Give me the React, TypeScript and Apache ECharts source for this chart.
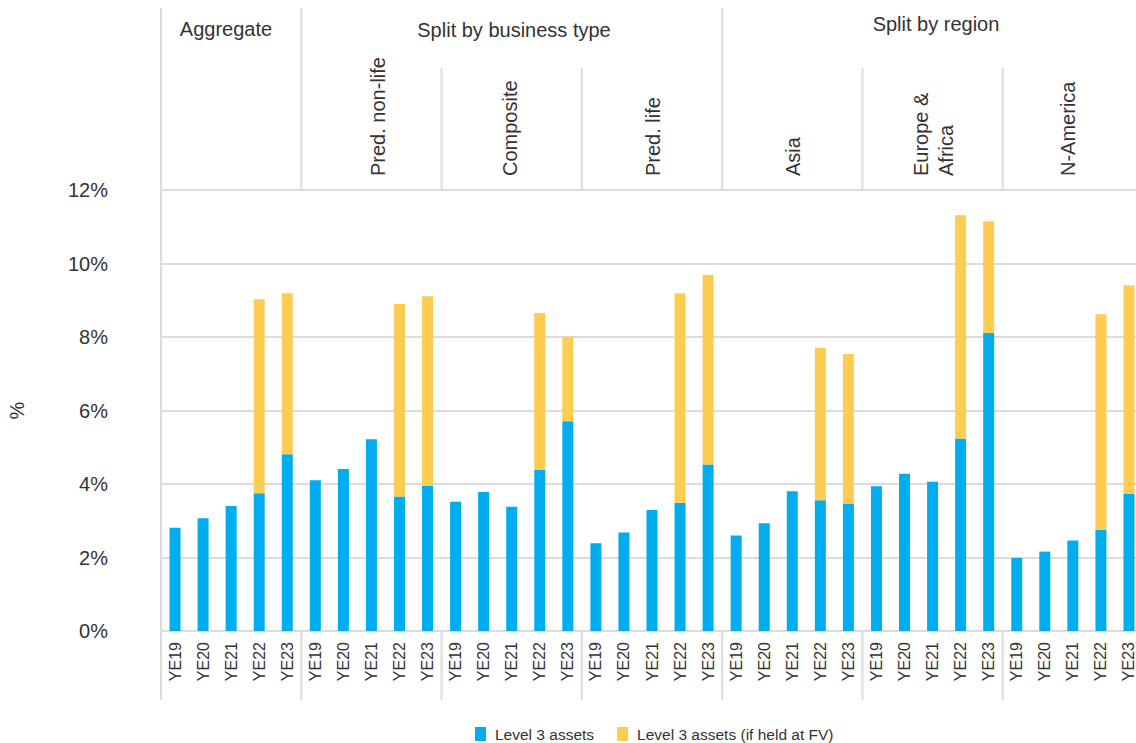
import React, { useEffect, useRef } from "react";
import * as echarts from "echarts";

const years = ["YE19", "YE20", "YE21", "YE22", "YE23"];
const groups = ["Aggregate", "Pred. non-life", "Composite", "Pred. life", "Asia", "Europe & Africa", "N-America"];
const categories: string[] = groups.flatMap(() => years);

// Level 3 assets (%)
const level3 = [
  2.81, 3.07, 3.4, 3.75, 4.81,
  4.1, 4.41, 5.22, 3.66, 3.95,
  3.52, 3.78, 3.38, 4.38, 5.71,
  2.39, 2.68, 3.29, 3.49, 4.53,
  2.6, 2.93, 3.8, 3.56, 3.47,
  3.94, 4.28, 4.06, 5.24, 8.11,
  1.99, 2.16, 2.46, 2.75, 3.73,
];
// Additional Level 3 assets if held at FV (stacked on top)
const heldAtFV = [
  null, null, null, 5.28, 4.38,
  null, null, null, 5.24, 5.16,
  null, null, null, 4.27, 2.3,
  null, null, null, 5.7, 5.16,
  null, null, null, 4.15, 4.07,
  null, null, null, 6.07, 3.04,
  null, null, null, 5.87, 5.67,
];
const yTicks = { min: 0, max: 12, interval: 2 };
const seriesNames = ["Level 3 assets", "Level 3 assets (if held at FV)"];
const topHeaders = [
  { text: "Aggregate", x: 226, y: 29 },
  { text: "Split by business type", x: 514, y: 30 },
  { text: "Split by region", x: 936, y: 24 },
];
const subHeaders = [
  { text: "Pred. non-life", x: 378 },
  { text: "Composite", x: 510 },
  { text: "Pred. life", x: 653 },
  { text: "Asia", x: 793 },
  { text: "Europe &\nAfrica", x: 933 },
  { text: "N-America", x: 1068 },
];

const FONT = "'Liberation Sans', Arial, Helvetica, sans-serif";
const TEXT = "#333333";
const GRIDC = "#dcdcdc";
const BLUE = "#00ADEE";
const YELLOW = "#FECC50";

const GRID_LEFT = 161;
const GRID_TOP = 190;
const GRID_W = 982;
const GRID_H = 441;

export default function App() {
  const ref = useRef<HTMLDivElement>(null);
  useEffect(() => {
    document.body.style.margin = "0";
    if (!ref.current) return;
    const chart = echarts.init(ref.current, undefined, { renderer: "svg" });
    const catW = GRID_W / categories.length;
    const bx = (i: number) => GRID_LEFT + i * 5 * catW;
    const line = (x1: number, y1: number, x2: number, y2: number) => ({
      type: "line",
      silent: true,
      shape: { x1, y1, x2, y2 },
      style: { stroke: GRIDC, lineWidth: 2 },
    });
    const graphics: any[] = [];
    graphics.push(line(GRID_LEFT, 8, GRID_LEFT, 700));
    [1, 4].forEach((i) => graphics.push(line(bx(i), 8, bx(i), GRID_TOP)));
    [2, 3, 5, 6].forEach((i) => graphics.push(line(bx(i), 68, bx(i), GRID_TOP)));
    [1, 2, 3, 4, 5, 6].forEach((i) => graphics.push(line(bx(i), GRID_TOP + GRID_H, bx(i), 700)));
    topHeaders.forEach((h) =>
      graphics.push({
        type: "text",
        silent: true,
        x: h.x,
        y: h.y,
        style: { text: h.text, fontSize: 20, fontFamily: FONT, fill: TEXT, align: "center", verticalAlign: "middle" },
      })
    );
    subHeaders.forEach((h) =>
      graphics.push({
        type: "text",
        silent: true,
        x: h.x,
        y: 176,
        rotation: Math.PI / 2,
        style: {
          text: h.text,
          fontSize: 20,
          lineHeight: 25,
          fontFamily: FONT,
          fill: TEXT,
          align: "left",
          verticalAlign: "middle",
        },
      })
    );

    chart.setOption({
      animation: false,
      textStyle: { fontFamily: FONT, color: TEXT },
      grid: {
        left: GRID_LEFT,
        top: GRID_TOP,
        width: GRID_W,
        height: GRID_H,
        containLabel: false,
        outerBoundsMode: "none",
      },
      legend: {
        left: 475,
        top: 726,
        padding: 0,
        itemWidth: 11,
        itemHeight: 14,
        itemGap: 23,
        icon: "rect",
        textStyle: { fontSize: 15.5, color: TEXT, fontFamily: FONT, padding: [0, 0, 0, 4] },
        data: seriesNames,
      },
      xAxis: {
        type: "category",
        data: categories,
        axisTick: { show: false },
        axisLine: { show: true, lineStyle: { color: GRIDC, width: 2 } },
        axisLabel: { rotate: 90, fontSize: 16, color: TEXT, margin: 11, interval: 0, fontFamily: FONT },
      },
      yAxis: {
        type: "value",
        min: yTicks.min,
        max: yTicks.max,
        interval: yTicks.interval,
        name: "%",
        nameLocation: "middle",
        nameGap: 134,
        nameRotate: 90,
        nameTextStyle: { fontSize: 20, color: TEXT, fontFamily: FONT },
        axisLine: { show: false },
        axisTick: { show: false },
        axisLabel: { formatter: "{value}%", fontSize: 20, color: TEXT, margin: 53, fontFamily: FONT },
        splitLine: { lineStyle: { color: GRIDC, width: 2 } },
      },
      series: [
        {
          name: seriesNames[0],
          type: "bar",
          stack: "total",
          barWidth: 11,
          itemStyle: { color: BLUE },
          data: level3,
        },
        {
          name: seriesNames[1],
          type: "bar",
          stack: "total",
          barWidth: 11,
          itemStyle: { color: YELLOW },
          data: heldAtFV,
        },
      ],
      graphic: graphics,
    });
    return () => chart.dispose();
  }, []);
  return <div ref={ref} style={{ width: 1136, height: 743 }} />;
}
